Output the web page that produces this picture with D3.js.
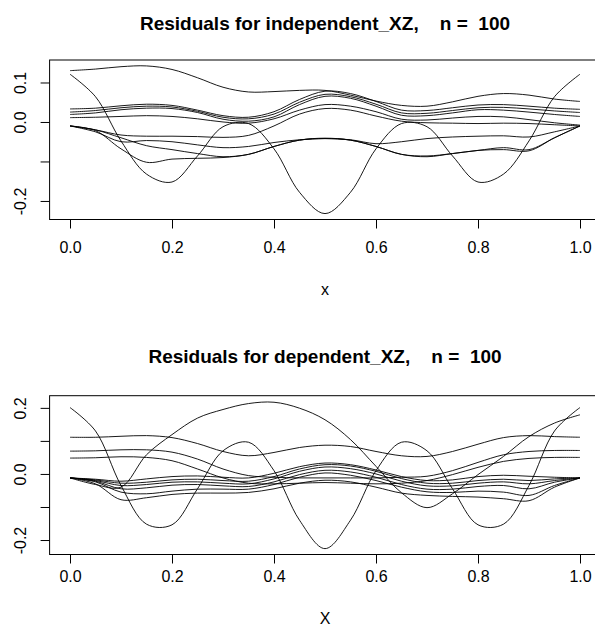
<!DOCTYPE html>
<html>
<head>
<meta charset="utf-8">
<script src="https://cdn.jsdelivr.net/npm/d3@7"></script>
<style>
  body { margin: 0; background: #fff; }
  svg { display: block; font-family: "Liberation Sans", Arial, Helvetica, sans-serif; }
</style>
</head>
<body>
<div id="container"></div>
<script>
let w = 595;
let h = 629;

// shared x grid of the residual curves
let xs = [0, 0.05, 0.1, 0.15, 0.2, 0.25, 0.3, 0.35, 0.4, 0.45, 0.5, 0.55, 0.6, 0.65, 0.7, 0.75, 0.8, 0.85, 0.9, 0.95, 1];
let xTicks = [0, 0.2, 0.4, 0.6, 0.8, 1];

// top panel: independent_XZ
let topA  = [0.130, 0.134, 0.140, 0.142, 0.133, 0.112, 0.088, 0.076, 0.077, 0.080, 0.080, 0.068, 0.053, 0.042, 0.040, 0.051, 0.065, 0.072, 0.068, 0.058, 0.052];
let topB  = [0.121, 0.064, -0.048, -0.132, -0.152, -0.086, -0.012, -0.004, -0.068, -0.178, -0.232, -0.178, -0.068, -0.004, -0.012, -0.086, -0.152, -0.132, -0.048, 0.064, 0.121];
let topM1 = [0.033, 0.035, 0.041, 0.045, 0.042, 0.030, 0.016, 0.012, 0.026, 0.057, 0.078, 0.072, 0.052, 0.030, 0.029, 0.036, 0.043, 0.044, 0.040, 0.035, 0.032];
let topM2 = [0.025, 0.029, 0.036, 0.040, 0.038, 0.027, 0.012, 0.008, 0.020, 0.050, 0.070, 0.064, 0.045, 0.023, 0.022, 0.029, 0.036, 0.037, 0.033, 0.028, 0.024];
let topM3 = [0.019, 0.023, 0.031, 0.035, 0.034, 0.024, 0.007, 0.002, 0.013, 0.044, 0.065, 0.060, 0.040, 0.017, 0.016, 0.023, 0.031, 0.030, 0.025, 0.019, 0.014];
let topM4 = [0.011, 0.012, 0.014, 0.016, 0.014, 0.008, 0.000, -0.003, 0.008, 0.030, 0.044, 0.040, 0.026, 0.007, 0.005, 0.010, 0.014, 0.013, 0.006, -0.002, -0.008];
let topG1 = [-0.010, -0.020, -0.033, -0.036, -0.036, -0.037, -0.039, -0.034, -0.010, 0.020, 0.034, 0.030, 0.015, 0.002, -0.002, -0.003, -0.004, -0.003, -0.004, -0.007, -0.010];
let topG2 = [-0.010, -0.025, -0.050, -0.047, -0.050, -0.058, -0.065, -0.062, -0.052, -0.045, -0.042, -0.045, -0.055, -0.050, -0.042, -0.038, -0.036, -0.035, -0.038, -0.025, -0.010];
let topG3 = [-0.010, -0.020, -0.040, -0.060, -0.070, -0.080, -0.088, -0.082, -0.062, -0.046, -0.041, -0.046, -0.062, -0.082, -0.088, -0.080, -0.072, -0.065, -0.070, -0.040, -0.010];
let topG4 = [-0.010, -0.022, -0.068, -0.102, -0.094, -0.092, -0.090, -0.082, -0.062, -0.046, -0.042, -0.046, -0.062, -0.082, -0.086, -0.080, -0.072, -0.070, -0.073, -0.040, -0.010];
let topYLim = [-0.232, 0.142];
let topYTicks = [-0.2, -0.1, 0, 0.1];
let topYLabelled = [-0.2, 0, 0.1];

// bottom panel: dependent_XZ
let botB  = [0.201, 0.130, -0.035, -0.152, -0.154, -0.045, 0.070, 0.096, 0.010, -0.140, -0.226, -0.140, 0.010, 0.096, 0.070, -0.045, -0.154, -0.152, -0.035, 0.130, 0.201];
let botS  = [-0.012, -0.032, -0.040, 0.058, 0.119, 0.169, 0.195, 0.213, 0.217, 0.199, 0.164, 0.104, 0.023, -0.057, -0.102, -0.060, -0.002, 0.053, 0.113, 0.154, 0.179];
let botT1 = [0.111, 0.111, 0.114, 0.116, 0.110, 0.092, 0.068, 0.055, 0.065, 0.080, 0.087, 0.083, 0.068, 0.055, 0.053, 0.068, 0.090, 0.110, 0.116, 0.113, 0.111];
let botT2 = [0.069, 0.070, 0.073, 0.073, 0.066, 0.045, 0.015, -0.005, -0.010, -0.012, -0.012, -0.012, -0.012, -0.010, -0.007, 0.010, 0.035, 0.058, 0.068, 0.071, 0.071];
let botT3 = [0.048, 0.049, 0.052, 0.050, 0.040, 0.015, -0.012, -0.028, -0.030, -0.028, -0.026, -0.028, -0.030, -0.028, -0.020, -0.002, 0.020, 0.038, 0.047, 0.050, 0.050];
let botL1 = [-0.012, -0.016, -0.022, -0.015, -0.008, -0.006, -0.010, -0.012, 0.002, 0.022, 0.033, 0.028, 0.012, -0.008, -0.020, -0.018, -0.008, -0.004, -0.007, -0.010, -0.012];
let botL2 = [-0.012, -0.018, -0.028, -0.025, -0.018, -0.016, -0.020, -0.022, -0.008, 0.015, 0.028, 0.024, 0.008, -0.014, -0.028, -0.028, -0.020, -0.016, -0.020, -0.015, -0.012];
let botL3 = [-0.012, -0.020, -0.035, -0.032, -0.025, -0.024, -0.028, -0.030, -0.015, 0.008, 0.021, 0.016, 0.000, -0.022, -0.036, -0.036, -0.028, -0.024, -0.030, -0.020, -0.012];
let botL4 = [-0.012, -0.022, -0.045, -0.042, -0.034, -0.032, -0.036, -0.038, -0.024, -0.002, 0.011, 0.006, -0.010, -0.032, -0.046, -0.046, -0.038, -0.035, -0.045, -0.025, -0.012];
let botL5 = [-0.012, -0.024, -0.055, -0.060, -0.052, -0.046, -0.046, -0.046, -0.032, -0.010, 0.003, -0.004, -0.020, -0.040, -0.054, -0.056, -0.052, -0.055, -0.065, -0.035, -0.012];
let botL6 = [-0.012, -0.030, -0.078, -0.072, -0.062, -0.058, -0.058, -0.056, -0.045, -0.028, -0.019, -0.024, -0.040, -0.058, -0.065, -0.068, -0.070, -0.075, -0.081, -0.040, -0.012];
let botYLim = [-0.226, 0.219];
let botYTicks = [-0.2, -0.1, 0, 0.1, 0.2];
let botYLabelled = [-0.2, 0, 0.2];

let panels = [
  {
    title: "Residuals for independent_XZ,    n =  100",
    xlab: "x",
    series: [topA, topB, topM1, topM2, topM3, topM4, topG1, topG2, topG3, topG4],
    yLim: topYLim, yTicks: topYTicks, yLabelled: topYLabelled,
    top: 60, bottom: 219.5, titleY: 30, tickLabelY: 247, xlabY: 289
  },
  {
    title: "Residuals for dependent_XZ,    n =  100",
    xlab: "X",
    series: [botB, botS, botT1, botT2, botT3, botL1, botL2, botL3, botL4, botL5, botL6],
    yLim: botYLim, yTicks: botYTicks, yLabelled: botYLabelled,
    top: 395.7, bottom: 554.5, titleY: 363, tickLabelY: 576, xlabY: 618
  }
];

let left = 49.6;
let right = 600.4;

let viz = d3.select("#container")
  .append("svg")
  .attr("width", w)
  .attr("height", h)
  ;

// R style 4% extension of the data range
function extend(lim) {
  let r = lim[1] - lim[0];
  return [lim[0] - 0.04 * r, lim[1] + 0.04 * r];
}

function drawPanel(p) {
  let g = viz.append("g");

  let xScale = d3.scaleLinear().domain(extend([0, 1])).range([left, right]);
  let yScale = d3.scaleLinear().domain(extend(p.yLim)).range([p.bottom, p.top]);

  let line = d3.line()
    .x((d, i) => xScale(xs[i]))
    .y(d => yScale(d))
    .curve(d3.curveCatmullRom.alpha(0.5))
    ;

  g.selectAll(".curve").data(p.series).enter()
    .append("path")
    .attr("class", "curve")
    .attr("d", line)
    .attr("fill", "none")
    .attr("stroke", "black")
    .attr("stroke-width", 0.9)
    ;

  // box
  g.append("rect")
    .attr("x", left)
    .attr("y", p.top)
    .attr("width", right - left)
    .attr("height", p.bottom - p.top)
    .attr("fill", "none")
    .attr("stroke", "black")
    .attr("stroke-width", 1)
    ;

  // x axis
  let xAxis = g.append("g")
    .attr("transform", `translate(0,${p.bottom})`)
    .call(d3.axisBottom(xScale).tickValues(xTicks).tickSize(9).tickSizeOuter(0).tickFormat(d => d.toFixed(1)));
  xAxis.select(".domain").remove();
  xAxis.selectAll("text")
    .attr("y", p.tickLabelY - p.bottom)
    .attr("dy", "0.35em")
    .attr("fill", "black")
    .style("font-size", "16px")
    ;

  // y axis, R skips labels that would overlap
  let yAxis = g.append("g")
    .attr("transform", `translate(${left},0)`)
    .call(d3.axisLeft(yScale).tickValues(p.yTicks).tickSize(9).tickSizeOuter(0)
      .tickFormat(d => p.yLabelled.includes(d) ? d.toFixed(1) : ""));
  yAxis.select(".domain").remove();
  yAxis.selectAll("text")
    .attr("x", null)
    .attr("dy", "0.35em")
    .attr("transform", "translate(-29.5,0) rotate(-90)")
    .attr("text-anchor", "middle")
    .attr("fill", "black")
    .style("font-size", "16px")
    ;
  g.selectAll(".tick line").attr("stroke", "black");

  g.append("text")
    .attr("x", (left + right) / 2)
    .attr("y", p.titleY)
    .attr("text-anchor", "middle")
    .attr("font-weight", "bold")
    .style("font-size", "19px")
    .style("white-space", "pre")
    .text(p.title);

  g.append("text")
    .attr("x", (left + right) / 2)
    .attr("y", p.xlabY)
    .attr("dy", "0.35em")
    .attr("text-anchor", "middle")
    .style("font-size", "16px")
    .text(p.xlab);
}

panels.forEach(drawPanel);
</script>
</body>
</html>
